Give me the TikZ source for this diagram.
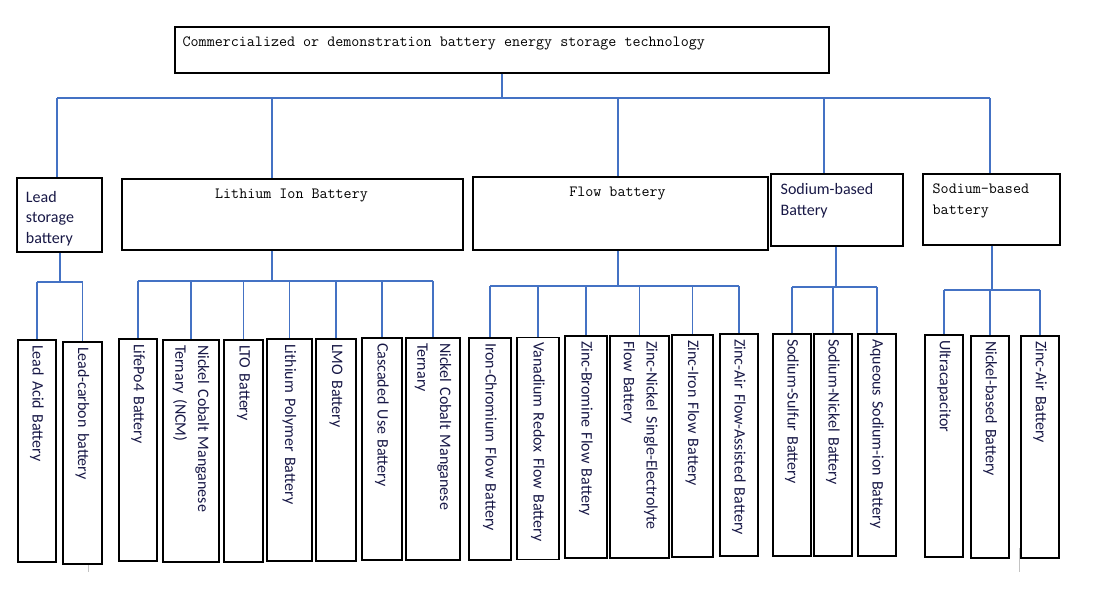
\documentclass[tikz,border=0pt]{standalone}
\usepackage{fontspec}
\setmainfont{Carlito}
\definecolor{linie_blau}{RGB}{68,114,196}
\definecolor{text_navy}{RGB}{24,24,70}
\definecolor{spur_grau}{RGB}{195,195,195}

\begin{document}
\begin{tikzpicture}[
      x=0.75pt,
      y=-0.75pt,
      box/.style={
        draw,
        line width=0.9pt,
        inner sep=0pt
      },
      leaf/.style={
        box,
        rotate=-90,
        minimum width=166.5pt,
        minimum height=#1,
        inner xsep=3.75pt,
        text width=159pt,
        align=left,
        font=\fontsize{12}{17}\selectfont,
        text=text_navy
      },
      leaf/.default=28.5pt,
      sanslbl/.style={
        font=\fontsize{12}{15.5}\selectfont,
        text=text_navy,
        align=left,
        inner sep=0pt
      },
      monolbl/.style={
        font=\ttfamily\fontsize{11.7}{15.75}\selectfont,
        align=left,
        inner sep=0pt
      },
      verb/.style={linie_blau, line width=0.9pt}
    ]
      \useasboundingbox (0,0) rectangle (1098,610);

      % Wurzel
      \node [box, minimum width=490.5pt, minimum height=34.5pt,
        label={[monolbl, anchor=north west, xshift=6pt, yshift=-7.5pt]north west:Commercialized or demonstration battery energy storage technology}]
        (root) at (502,50) {};

      % Ebene 2
      \node [box, minimum width=63.75pt, minimum height=55.5pt,
        label={[sanslbl, anchor=north west, xshift=7pt, yshift=-10pt]north west:{Lead\\storage\\battery}}]
        (lead) at (59.5,215) {};
      \node [box, minimum width=255.75pt, minimum height=53.25pt,
        label={[monolbl, anchor=north, xshift=-0.75pt, yshift=-7.5pt]north:Lithium Ion Battery}]
        (li) at (292.5,214.5) {};
      \node [box, minimum width=221.25pt, minimum height=54.75pt,
        label={[monolbl, anchor=north, xshift=-2.25pt, yshift=-7.5pt]north:Flow battery}]
        (flow) at (620.5,213.5) {};
      \node [box, minimum width=99pt, minimum height=54pt,
        label={[sanslbl, anchor=north west, xshift=7.5pt, yshift=-7.5pt]north west:{Sodium-based\\Battery}}]
        (na1) at (837,210) {};
      \node [box, minimum width=102.75pt, minimum height=53.25pt,
        label={[monolbl, anchor=north west, xshift=7.5pt, yshift=-7.5pt]north west:{Sodium-based\\battery}}]
        (na2) at (991.5,209.5) {};

      % Blaetter
      \node [leaf] (la) at (37,451) {Lead Acid Battery};
      \node [leaf=29.25pt] (lc) at (82.5,453) {Lead-carbon battery};

      \node [leaf] (lfp) at (138,450) {LifePo4 Battery};
      \node [leaf=42pt] (ncm) at (191,451) {Nickel Cobalt Manganese\\Ternary (NCM)};
      \node [leaf=29.25pt] (lto) at (243.5,451) {LTO Battery};
      \node [leaf=33.75pt] (lpo) at (289.5,450) {Lithium Polymer Battery};
      \node [leaf=30pt] (lmo) at (336,450) {LMO Battery};
      \node [leaf=30pt] (cas) at (382,449) {Cascaded Use Battery};
      \node [leaf=40.5pt] (ncmb) at (433,449) {Nickel Cobalt Manganese\\Ternary};

      \node [leaf=31.5pt] (icr) at (490,449) {Iron-Chromium Flow Battery};
      \node [leaf=31.5pt] (vrb) at (538,448.5) {Vanadium Redox Flow Battery};
      \node [leaf=31.5pt] (zbr) at (586,447) {Zinc-Bromine Flow Battery};
      \node [leaf=44.25pt] (zni) at (639.5,447) {Zinc-Nickel Single-Electrolyte\\Flow Battery};
      \node [leaf=30.75pt] (zfe) at (692.5,446) {Zinc-Iron Flow Battery};
      \node [leaf] (zaf) at (739,445) {Zinc-Air Flow-Assisted Battery};

      \node [leaf] (nas) at (792,445) {Sodium-Sulfur Battery};
      \node [leaf] (nani) at (833,445) {Sodium-Nickel Battery};
      \node [leaf] (aq) at (877,445) {Aqueous Sodium-ion Battery};

      \node [leaf] (uc) at (944,446) {Ultracapacitor};
      \node [leaf] (nib) at (990,447) {Nickel-based Battery};
      \node [leaf] (zab) at (1040,447) {Zinc-Air Battery};

      % Verbindungen Ebene 1
      \coordinate (k-lead) at (57,98);
      \coordinate (k-li) at (272,98);
      \coordinate (k-flow) at (618,98);
      \coordinate (k-na1) at (824,98);
      \coordinate (k-na2) at (990,98);
      \draw [verb] (root.south) -- (root.south |- k-lead);
      \draw [verb] (k-lead) -- (k-na2);
      \foreach \n in {lead,li,flow,na1,na2}
      { \draw [verb] (k-\n) -- (\n.north -| k-\n);
      }

      % Verbindungen Ebene 2
      \coordinate (g-lead) at (60,282);
      \coordinate (g-li) at (272,281);
      \coordinate (g-flow) at (618,286);
      \coordinate (g-na1) at (836,287);
      \coordinate (g-na2) at (992,290);

      \draw [verb] (lead.south -| g-lead) -- (g-lead);
      \draw [verb] (la.west |- g-lead) -- (lc.west |- g-lead);
      \foreach \n in {la,lc}
      { \draw [verb] (\n.west |- g-lead) -- (\n.west);
      }

      \draw [verb] (li.south -| g-li) -- (g-li);
      \draw [verb] (lfp.west |- g-li) -- (ncmb.west |- g-li);
      \foreach \n in {lfp,ncm,lto,lpo,lmo,cas,ncmb}
      { \draw [verb] (\n.west |- g-li) -- (\n.west);
      }

      \draw [verb] (flow.south -| g-flow) -- (g-flow);
      \draw [verb] (icr.west |- g-flow) -- (zaf.west |- g-flow);
      \foreach \n in {icr,vrb,zbr,zni,zfe,zaf}
      { \draw [verb] (\n.west |- g-flow) -- (\n.west);
      }

      \draw [verb] (na1.south -| g-na1) -- (g-na1);
      \draw [verb] (nas.west |- g-na1) -- (aq.west |- g-na1);
      \foreach \n in {nas,nani,aq}
      { \draw [verb] (\n.west |- g-na1) -- (\n.west);
      }

      \draw [verb] (na2.south -| g-na2) -- (g-na2);
      \draw [verb] (uc.west |- g-na2) -- (zab.west |- g-na2);
      \foreach \n in {uc,nib,zab}
      { \draw [verb] (\n.west |- g-na2) -- (\n.west);
      }

      % Spuren
      \draw [spur_grau, line width=0.6pt] (88,565) -- (88,572);
      \draw [spur_grau, line width=0.6pt] (1019,548) -- (1019,572);
    \end{tikzpicture}
\end{document}
